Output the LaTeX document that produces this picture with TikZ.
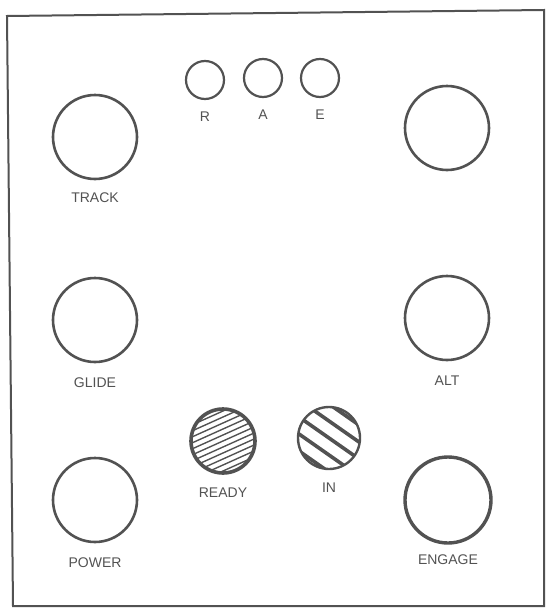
\documentclass[tikz,border=0pt]{standalone}
\usepackage{fontspec}
\setmainfont{Liberation Sans}
\usepackage{xcolor}
\usepackage{tikz}
\usetikzlibrary{positioning}

\colorlet{ink}{black!68}

\begin{document}
\begin{tikzpicture}[x=1pt, y=-1pt,
      knob/.style={circle, draw=ink, line width=2.6pt, minimum size=84pt, inner sep=0pt},
      lamp/.style={circle, draw=ink, line width=2.2pt, minimum size=38pt, inner sep=0pt},
      lab/.style={inner sep=0pt, font=\fontsize{14}{16}\selectfont, text=ink},
      readylamp/.style={circle, draw=ink, line width=3.6pt, minimum size=64pt, inner sep=0pt,
                  path picture={\foreach \d in {-42,-36,...,42}
                    \draw[ink, line width=1.4pt] ([yshift=\d]path picture bounding box.center)
                      ++(-40,18) -- ++(80,-36);}},
      inlamp/.style={circle, draw=ink, line width=2.4pt, minimum size=62pt, inner sep=0pt,
                  path picture={\foreach \d in {-51,-34,...,51}
                    \draw[ink, line width=3.6pt] ([yshift=\d]path picture bounding box.center)
                      ++(-40,-28) -- ++(80,56);}},
      node distance=12pt]
    \useasboundingbox (0,0) rectangle (546,608);
    \draw[ink, line width=2pt] (7,16) -- (544,10) -- (544,606) -- (13,606) -- cycle;

    \node[lamp] (r) at (205,80) {};
    \node[lamp] (a) at (263,78) {};
    \node[lamp] (e) at (320,78) {};
    \node[lab, below=of r] {R};
    \node[lab, below=of a] {A};
    \node[lab, below=of e] {E};

    \node[knob] (track) at (95,137) {};
    \node[knob] (spare) at (447,128) {};
    \node[knob] (glide) at (95,320) {};
    \node[knob] (alt) at (447,318) {};
    \node[knob] (power) at (95,500) {};
    \node[knob, line width=3.4pt, minimum size=86pt] (engage) at (448,500) {};
    \node[lab, below=of track] {TRACK};
    \node[lab, below=14pt of glide] {GLIDE};
    \node[lab, below=14pt of alt] {ALT};
    \node[lab, below=14pt of power] {POWER};
    \node[lab, below=10pt of engage] {ENGAGE};

    \node[readylamp] (ready) at (223,441) {};
    \node[inlamp] (in) at (329,438) {};
    \node[lab, below=13pt of ready] {READY};
    \node[lab, below=of in] {IN};
  \end{tikzpicture}
\end{document}
